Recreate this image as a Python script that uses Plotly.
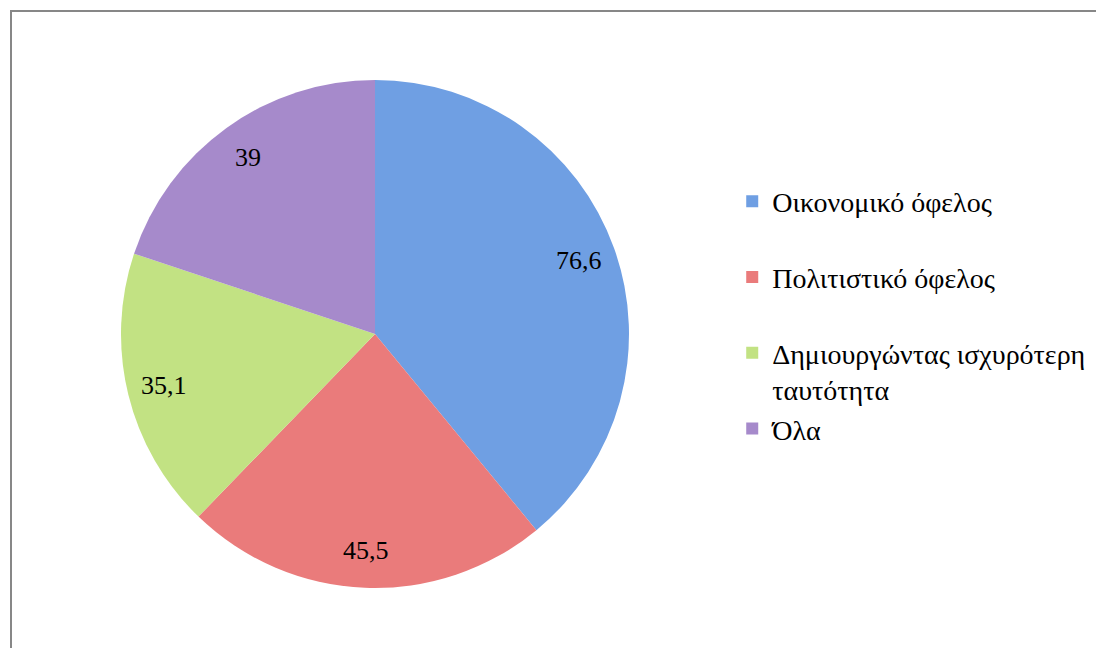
import math
import plotly.graph_objects as go

categories = ["Οικονομικό όφελος", "Πολιτιστικό όφελος", "Δημιουργώντας ισχυρότερη ταυτότητα", "Όλα"]
values = [76.6, 45.5, 35.1, 39]
colors = ["#6f9fe3", "#ea7b7b", "#c2e283", "#a68acb"]

W, H = 1104, 648
OFF = 8  # page body margin
CX, CY, R = 375 - OFF, 334 - OFF, 254  # pie centre / radius in px (figure coords)
FONT = "Liberation Serif, DejaVu Serif, serif"

def legend_label(c):
    if c.startswith("Δημιουργώντας"):
        a, b = c.rsplit(" ", 1)
        return a + "<br>" + b
    return c + "<br> "

labels = [legend_label(c) for c in categories]

fig = go.Figure(go.Pie(
    labels=labels,
    values=values,
    marker=dict(colors=colors, line=dict(width=0)),
    sort=False,
    direction="clockwise",
    rotation=0,
    textinfo="none",
    hoverinfo="label+value",
    domain=dict(x=[(CX - R) / W, (CX + R) / W], y=[1 - (CY + R) / H, 1 - (CY - R) / H]),
))

total = sum(values)
cum = 0
annots = []
for v in values:
    mid = (cum + v / 2) / total * 2 * math.pi
    cum += v
    k = 0.855
    px = CX + k * R * math.sin(mid)
    py = CY - k * R * math.cos(mid)
    txt = ("%g" % v).replace(".", ",")
    annots.append(dict(x=px / W, y=1 - py / H, xref="paper", yref="paper", text=txt,
                       showarrow=False, font=dict(family=FONT, size=26, color="#000000"),
                       xanchor="center", yanchor="middle"))

fig.update_layout(
    width=W, height=H,
    margin=dict(l=0, r=0, t=0, b=0),
    paper_bgcolor="white",
    plot_bgcolor="white",
    separators=",.",
    annotations=annots,
    legend=dict(
        x=0.656, y=0.740, xanchor="left", yanchor="top",
        font=dict(family=FONT, size=28, color="#000000"),
        valign="top",
        bgcolor="rgba(0,0,0,0)",
    ),
    shapes=[dict(type="rect", xref="paper", yref="paper",
                 x0=(11 - OFF) / W, x1=1.05, y0=-0.05, y1=1 - (11 - OFF) / H,
                 line=dict(color="#878787", width=2), fillcolor="rgba(0,0,0,0)", layer="below")],
)

fig.write_html("out.html")
